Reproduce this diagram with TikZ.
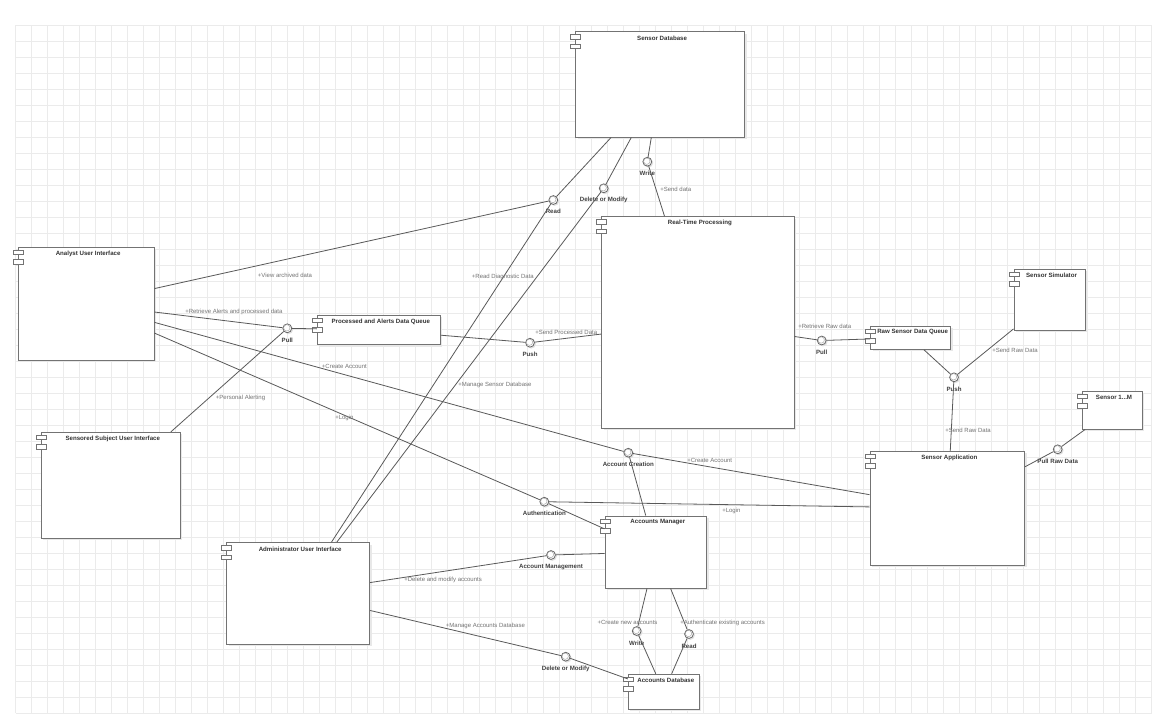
\documentclass[tikz,border=0pt]{standalone}
\usepackage{fontspec}
\setmainfont{Liberation Sans}
\usetikzlibrary{fit}

% component box: name, left, top, right, bottom, title
\newcommand\compnode[6]{%
  \fill[boxshadow] (#2+2,#3+2) rectangle (#4+2,#5+2);
  \coordinate (#1-nw) at (#2,#3);
  \coordinate (#1-se) at (#4,#5);
  \node[compbox, fit=(#1-nw)(#1-se)] (#1) {};
  \draw[iconbox] (#2-5,#3+3) rectangle (#2+5,#3+7.5);
  \draw[iconbox] (#2-5,#3+12.3) rectangle (#2+5,#3+17);
  \node[comptitle] (#1-title) at (#2/2+#4/2+2,#3+6.3) {#6};
}
% provided interface (lollipop): name, x, y, caption
\newcommand\portnode[4]{%
  \fill[black!12] (#2+1.2,#3+1.2) circle[radius=3.5pt];
  \node[iface] (#1) at (#2,#3) {};
  \draw[black!35, line width=0.35pt] (#2-0.5,#3-0.5) circle[radius=2.4pt];
  \node[ifname] (#1-name) at (#2,#3+11.8) {#4};
}

\begin{document}
\begin{tikzpicture}[x=0.75pt,y=-0.75pt,
  gridline/.style={draw=black!8, line width=0.7pt},
  compbox/.style={draw=black!55, fill=white, line width=0.75pt, inner sep=0pt},
  boxshadow/.style={fill=black!9},
  iconbox/.style={draw=black!55, fill=white, line width=0.55pt},
  comptitle/.style={font=\fontsize{4.6}{5.5}\selectfont\bfseries, text=black!80, inner sep=0pt},
  wire/.style={draw=black!65, line width=0.6pt},
  iface/.style={circle, draw=black!60, fill=white, line width=0.6pt, minimum size=6.6pt, inner sep=0pt},
  ifname/.style={font=\fontsize{4.6}{5.5}\selectfont\bfseries, text=black!75, inner sep=0pt},
  oplabel/.style={font=\fontsize{4.5}{5.5}\selectfont, text=black!55, inner sep=0pt, anchor=west},
]
\useasboundingbox[fill=white] (0,0) rectangle (1160,721);

% background grid
\foreach \gx in {0,...,71}
  \draw[gridline] (15.7+16*\gx,25) -- (15.7+16*\gx,713);
\foreach \gy in {0,...,43}
  \draw[gridline] (15.7,25+16*\gy) -- (1151.7,25+16*\gy);

% components
\compnode{sdb}{575.7}{31.7}{744.5}{137}{Sensor Database}
\compnode{rtp}{601.7}{216.7}{794}{428}{Real-Time Processing}
\compnode{ana}{18.3}{247.3}{154}{360}{Analyst User Interface}
\compnode{paq}{317.3}{315.3}{440.3}{344.7}{Processed and Alerts Data Queue}
\compnode{rsq}{870.7}{326}{950.7}{349.3}{Raw Sensor Data Queue}
\compnode{sim}{1014}{269.3}{1085}{330}{Sensor Simulator}
\compnode{s1m}{1082}{391}{1142}{429}{Sensor 1...M}
\compnode{sap}{870}{451.3}{1024.7}{565}{Sensor Application}
\compnode{ssu}{41.3}{432.3}{180.3}{538.3}{Sensored Subject User Interface}
\compnode{acm}{605}{516}{706.7}{588}{Accounts Manager}
\compnode{adm}{226.7}{542.7}{369.7}{644.3}{Administrator User Interface}
\compnode{adb}{628.3}{674.3}{699.3}{709.3}{Accounts Database}

% interfaces
\portnode{wr1}{647.3}{161.7}{Write}
\portnode{dm1}{603.7}{188.3}{Delete or Modify}
\portnode{rd1}{553.3}{200}{Read}
\portnode{pl1}{287.3}{328.3}{Pull}
\portnode{ps1}{530}{342.7}{Push}
\portnode{pl2}{821.7}{340.5}{Pull}
\portnode{ps2}{954}{377.3}{Push}
\portnode{prd}{1057.7}{449.3}{Pull Raw Data}
\portnode{acr}{628.3}{452.7}{Account Creation}
\portnode{aut}{544.3}{501.7}{Authentication}
\portnode{amg}{551}{555}{Account Management}
\portnode{dm2}{565.7}{656.7}{Delete or Modify}
\portnode{wr2}{636.7}{631}{Write}
\portnode{rd2}{689}{634}{Read}

% connectors
\draw[wire] (sdb) -- (wr1) -- (rtp);
\draw[wire] (sdb) -- (dm1) -- (adm);
\draw[wire] (sdb) -- (rd1);
\draw[wire] (ana) -- (rd1) -- (adm);
\draw[wire] (ana) -- (pl1) -- (paq);
\draw[wire] (ssu) -- (pl1);
\draw[wire] (paq) -- (ps1) -- (rtp);
\draw[wire] (rtp) -- (pl2) -- (rsq);
\draw[wire] (rsq) -- (ps2);
\draw[wire] (sim) -- (ps2);
\draw[wire] (sap) -- (ps2);
\draw[wire] (s1m) -- (prd) -- (sap);
\draw[wire] (ana) -- (acr) -- (sap);
\draw[wire] (acr) -- (acm);
\draw[wire] (ana) -- (aut) -- (sap);
\draw[wire] (aut) -- (acm);
\draw[wire] (adm) -- (amg) -- (acm);
\draw[wire] (adm) -- (dm2) -- (adb);
\draw[wire] (acm) -- (wr2) -- (adb);
\draw[wire] (acm) -- (rd2) -- (adb);

% operation labels
\node[oplabel] (op1) at (660,189) {+Send data};
\node[oplabel] (op2) at (257.7,275) {+View archived data};
\node[oplabel] (op3) at (471.7,277) {+Read Diagnostic Data};
\node[oplabel] (op4) at (185,311.7) {+Retrieve Alerts and processed data};
\node[oplabel] (op5) at (535,332.3) {+Send Processed Data};
\node[oplabel] (op6) at (798,326) {+Retrieve Raw data};
\node[oplabel] (op7) at (992,350) {+Send Raw Data};
\node[oplabel] (op8) at (945,430) {+Send Raw Data};
\node[oplabel] (op9) at (215.7,397.7) {+Personal Alerting};
\node[oplabel] (op10) at (321.7,366.7) {+Create Account};
\node[oplabel] (op11) at (458,385) {+Manage Sensor Database};
\node[oplabel] (op12) at (335,418) {+Login};
\node[oplabel] (op13) at (687,460) {+Create Account};
\node[oplabel] (op14) at (722,510.7) {+Login};
\node[oplabel] (op15) at (404,580) {+Delete and modify accounts};
\node[oplabel] (op16) at (445.7,626) {+Manage Accounts Database};
\node[oplabel] (op17) at (597.3,622.3) {+Create new accounts};
\node[oplabel] (op18) at (680,623) {+Authenticate existing accounts};
\end{tikzpicture}
\end{document}
